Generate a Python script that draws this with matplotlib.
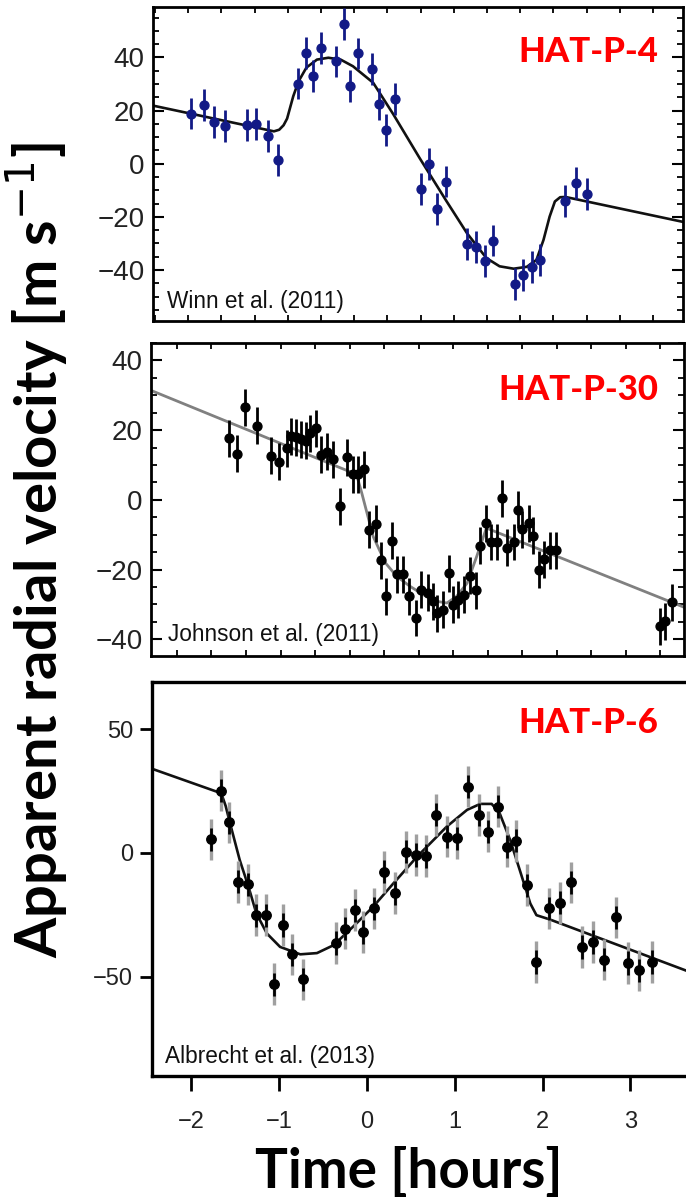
import numpy as np
import matplotlib
matplotlib.use("Agg")
import matplotlib.pyplot as plt
from matplotlib import font_manager as fm
from matplotlib.ticker import FixedLocator, MultipleLocator, NullFormatter

# ---------------- data (time in hours on the shared display scale) ----------------
hatp4_t = [-2.00, -1.86, -1.74, -1.62, -1.37, -1.26, -1.13, -1.01, -0.79, -0.70, -0.62, -0.52,
           -0.35, -0.26, -0.19, -0.10, 0.06, 0.14, 0.22, 0.32, 0.62, 0.71, 0.80, 0.90, 1.14,
           1.24, 1.34, 1.44, 1.69, 1.78, 1.88, 1.97, 2.26, 2.38, 2.51]
hatp4_v = [18.9, 22.0, 15.6, 14.1, 14.6, 15.1, 10.6, 1.5, 30.2, 41.8, 33.0, 43.5, 38.5, 52.5,
           29.2, 41.5, 35.7, 22.6, 12.6, 24.5, -9.4, -0.1, -17.0, -6.7, -30.2, -31.4, -36.6,
           -28.9, -45.3, -41.9, -39.0, -36.2, -14.0, -7.3, -11.4]
hatp4_err = 6.0
hatp4_model_t = [-2.44, -1.06, -1.00, -0.95, -0.91, -0.84, -0.78, -0.69, -0.57, -0.44, -0.30,
                 -0.16, 0.07, 0.30, 0.60, 0.90, 1.14, 1.36, 1.51, 1.67, 1.82, 1.93, 2.01, 2.08,
                 2.14, 2.20, 2.26, 3.63]
hatp4_model_v = [21.9, 12.2, 12.8, 14.5, 17.0, 25.4, 31.0, 36.2, 39.2, 39.9, 39.2, 36.7, 30.5,
                 18.6, 2.1, -13.8, -26.2, -35.5, -38.6, -39.5, -38.8, -36.2, -28.7, -19.9,
                 -14.2, -12.6, -12.5, -22.1]

hatp30_t = [-1.57, -1.48, -1.39, -1.25, -1.09, -1.00, -0.91, -0.86, -0.81, -0.75, -0.70, -0.65,
            -0.58, -0.52, -0.45, -0.39, -0.31, -0.23, -0.16, -0.10, -0.03, 0.02, 0.10, 0.16,
            0.22, 0.29, 0.34, 0.41, 0.48, 0.56, 0.62, 0.69, 0.75, 0.80, 0.86, 0.93, 0.98, 1.04,
            1.10, 1.17, 1.24, 1.29, 1.36, 1.41, 1.48, 1.54, 1.60, 1.67, 1.72, 1.77, 1.84, 1.89,
            1.96, 2.02, 2.08, 2.15, 3.34, 3.39, 3.47]
hatp30_v = [17.7, 13.2, 26.6, 21.2, 12.6, 11.0, 14.8, 18.3, 18.0, 17.4, 16.9, 19.1, 20.5, 12.9,
            13.8, 11.7, -1.9, 12.2, 7.4, 7.4, 8.8, -8.6, -6.9, -17.4, -27.7, -11.7, -21.3,
            -21.3, -27.7, -33.9, -25.8, -26.7, -29.1, -32.5, -31.5, -21.0, -30.1, -28.7, -27.2,
            -21.8, -26.0, -13.2, -6.7, -12.1, -12.1, 0.5, -13.8, -12.1, -2.9, -8.4, -6.7,
            -10.3, -20.1, -17.0, -14.5, -14.5, -36.3, -34.9, -29.4]
hatp30_err = 5.3
hatp30_model_t = [-2.47, -0.12, -0.06, 0.07, 0.21, 0.34, 0.49, 0.64, 0.79, 0.91, 1.02, 1.14,
                  1.25, 1.36, 3.63]
hatp30_model_v = [31.5, 7.3, 2.0, -10.5, -18.1, -22.0, -24.8, -27.2, -29.1, -29.6, -27.7,
                  -23.9, -16.2, -8.1, -31.0]

hatp6_t = [-1.78, -1.66, -1.57, -1.47, -1.36, -1.26, -1.15, -1.06, -0.96, -0.85, -0.73, -0.35,
           -0.25, -0.14, -0.04, 0.08, 0.19, 0.32, 0.44, 0.56, 0.67, 0.79, 0.91, 1.03, 1.15,
           1.28, 1.38, 1.49, 1.60, 1.70, 1.82, 1.93, 2.07, 2.20, 2.32, 2.45, 2.57, 2.70, 2.84,
           2.97, 3.10, 3.25]
hatp6_v = [5.5, 25.2, 12.3, -11.6, -12.7, -25.1, -25.1, -53.0, -29.1, -40.9, -51.0, -36.3,
           -30.5, -23.1, -31.9, -22.4, -7.6, -16.1, 0.5, -0.8, -1.2, 15.4, 6.6, 5.9, 26.8,
           15.4, 8.6, 18.7, 2.6, 4.9, -13.0, -44.0, -22.4, -20.1, -11.9, -37.9, -35.9, -43.0,
           -26.0, -44.4, -47.4, -44.0]
hatp6_err_outer = 8.4
hatp6_err_inner = 4.7
hatp6_model_t = [-2.45, -1.66, -1.61, -1.56, -1.45, -1.35, -1.26, -1.14, -0.99, -0.76, -0.57,
                 -0.38, -0.16, 0.07, 0.30, 0.57, 0.91, 1.14, 1.29, 1.42, 1.51, 1.63, 1.74, 1.86,
                 1.93, 2.08, 3.63]
hatp6_model_v = [34.0, 24.1, 19.0, 12.0, -2.8, -13.6, -24.4, -32.5, -37.9, -40.9, -40.4, -37.2,
                 -29.8, -21.7, -12.3, -1.5, 10.7, 17.4, 19.8, 19.8, 16.1, 5.3, -6.9, -20.4,
                 -25.1, -26.8, -47.4]

panel_names = ["HAT-P-4", "HAT-P-30", "HAT-P-6"]
citations = ["Winn et al. (2011)", "Johnson et al. (2011)", "Albrecht et al. (2013)"]
bottom_xticks = [-2, -1, 0, 1, 2, 3]
bottom_yticks = [-50, 0, 50]
ylabel_text = "Apparent radial velocity [m s$^{-1}$]"
xlabel_text = "Time [hours]"

# ---------------- figure ----------------
plt.rcParams["font.family"] = ["Liberation Sans", "DejaVu Sans"]
W, H = 686, 1202
fig = plt.figure(figsize=(W / 100, H / 100), dpi=100)
avail = {f.name for f in fm.fontManager.ttflist}
tick_family = ["Liberation Sans", "DejaVu Sans"]
title_family = ["Lato", "DejaVu Sans"]
ylab_family = (["Liberation Sans Narrow", "DejaVu Sans"] if "Liberation Sans Narrow" in avail
               else ["Lato", "DejaVu Sans"])


def px_axes(l, r, t, b):
    return fig.add_axes([l / W, 1 - b / H, (r - l) / W, (b - t) / H])


def fx(px):
    return (px - 367.0) / 87.8


ax1 = px_axes(153, 683, 7, 320.5)
ax2 = px_axes(151, 684, 343, 656)
ax3 = px_axes(152, 686, 681.5, 1076)

ax1.set_xlim(fx(153), fx(683)); ax1.set_ylim(-59, 59)
ax2.set_xlim(fx(151), fx(684)); ax2.set_ylim(-44.8, 45)
ax3.set_xlim(fx(152), fx(686)); ax3.set_ylim(-90, 69.2)

# top panel
ax1.plot(hatp4_model_t, hatp4_model_v, color="#111111", lw=1.9, zorder=2)
ax1.errorbar(hatp4_t, hatp4_v, yerr=hatp4_err, fmt="o", color="#121a86", ms=6.4,
             elinewidth=2.0, capsize=0, zorder=3)
# middle panel
ax2.plot(hatp30_model_t, hatp30_model_v, color="#808080", lw=2.0, zorder=2)
ax2.errorbar(hatp30_t, hatp30_v, yerr=hatp30_err, fmt="o", color="black", ms=6.4,
             elinewidth=2.0, capsize=0, zorder=3)
# bottom panel
ax3.plot(hatp6_model_t, hatp6_model_v, color="#111111", lw=1.9, zorder=2)
ax3.errorbar(hatp6_t, hatp6_v, yerr=hatp6_err_outer, fmt="none", ecolor="#a0a0a0",
             elinewidth=2.4, capsize=0, zorder=3)
ax3.errorbar(hatp6_t, hatp6_v, yerr=hatp6_err_inner, fmt="o", color="black", ms=6.8,
             elinewidth=2.0, capsize=0, zorder=4)

# axes styling
for ax, step, start in [(ax1, 33.2 / 87.8, fx(155)), (ax2, 34.5 / 87.8, fx(177))]:
    for s in ax.spines.values():
        s.set_linewidth(2.0)
    ax.yaxis.set_major_locator(MultipleLocator(20))
    ax.yaxis.set_minor_locator(MultipleLocator(5))
    ax.xaxis.set_major_locator(FixedLocator(list(np.arange(start, ax.get_xlim()[1], step))))
    ax.xaxis.set_major_formatter(NullFormatter())
    ax.tick_params(axis="y", which="major", direction="in", length=8, width=1.5,
                   left=True, right=True, labelsize=20, pad=6, labelcolor="#222222")
    ax.tick_params(axis="y", which="minor", direction="in", length=4.5, width=1.3,
                   left=True, right=True)
    ax.tick_params(axis="x", which="major", direction="in", length=4.5, width=1.3,
                   top=True, bottom=True)

for s in ax3.spines.values():
    s.set_linewidth(2.4)
ax3.spines["right"].set_visible(False)
ax3.set_yticks(bottom_yticks)
ax3.set_xticks(bottom_xticks)
ax3.set_xticklabels([f"\u2212{abs(v)}" if v < 0 else str(v) for v in bottom_xticks])
ax3.set_yticklabels([f"\u2212{abs(v)}" if v < 0 else str(v) for v in bottom_yticks])
ax3.tick_params(axis="y", direction="out", length=8.5, width=2.0, labelsize=17, pad=5,
                labelcolor="#222222")
ax3.tick_params(axis="x", direction="out", length=11, width=2.0, labelsize=17, pad=14,
                labelcolor="#222222")

# panel labels and citations
for name, base_y in [(panel_names[0], 62), (panel_names[1], 400), (panel_names[2], 733)]:
    fig.text(658 / W, 1 - base_y / H, name, color="#ff0000", fontsize=25, fontweight="black",
             family=title_family, ha="right", va="baseline")
for txt, x, base_y in [(citations[0], 167, 308), (citations[1], 168, 641), (citations[2], 165, 1063)]:
    fig.text(x / W, 1 - base_y / H, txt, fontsize=16.3, family=tick_family, color="#111111",
             ha="left", va="baseline")

# axis labels, fitted to the reference lengths
ylab = fig.text(58 / W, 1 - 550 / H, ylabel_text, rotation=90, rotation_mode="anchor",
                ha="center", va="baseline", fontsize=40, fontweight="bold", family=ylab_family)
xlab = fig.text(408.5 / W, 1 - 1188 / H, xlabel_text, ha="center", va="baseline",
                fontsize=35, fontweight="bold", family=title_family)
fig.canvas.draw()
r = fig.canvas.get_renderer()
hy = ylab.get_window_extent(r).height
ylab.set_fontsize(40 * 815.0 / hy)
wx = xlab.get_window_extent(r).width
xlab.set_fontsize(35 * 307.0 / wx)

fig.savefig("out.png", dpi=100)
